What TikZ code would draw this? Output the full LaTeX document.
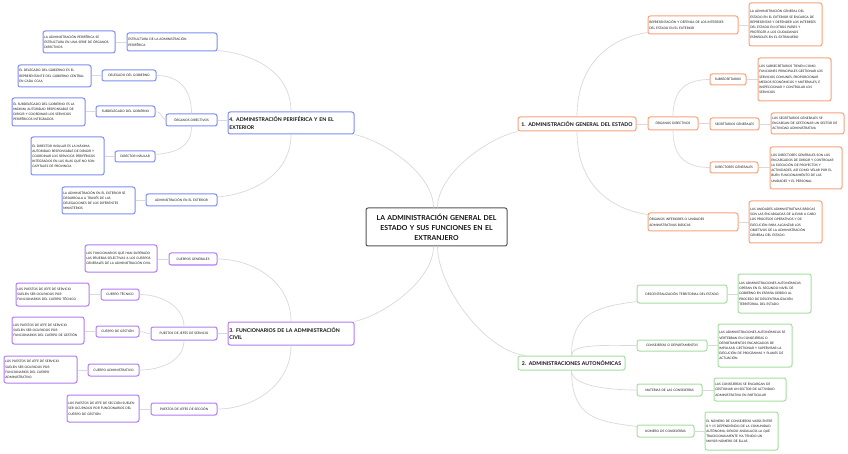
\documentclass[tikz,border=0pt]{standalone}
\usepackage{fontspec}
\setmainfont{Lato}
\definecolor{cblue}{HTML}{7F8CF2}
\definecolor{cpurp}{HTML}{B27CF5}
\definecolor{corng}{HTML}{F7A27C}
\definecolor{cgren}{HTML}{A5DEA0}
\definecolor{cgray}{HTML}{555555}
\definecolor{lgray}{HTML}{D9D9D9}
\definecolor{txt}{HTML}{111111}
\tikzset{
  box/.style={draw, rounded corners=2.2pt, fill=white, line width=1pt, inner xsep=1.3pt, inner ysep=0.5pt,
    align=left, text=txt, font=\fontsize{3.15}{5.2}\selectfont},
  ctr/.style={align=center},
  bl/.style={draw=cblue}, pb/.style={draw=cpurp}, ob/.style={draw=corng}, gb/.style={draw=cgren},
  brfont/.style={font=\bfseries\fontsize{5.2}{7.7}\selectfont},
  mainbox/.style={draw=cgray, line width=1pt, rounded corners=2pt, font=\bfseries\fontsize{6.9}{10}\selectfont, align=center},
  conn/.style={draw=lgray, line width=0.7pt},
}
\newcommand{\bx}[7]{%
  \pgfmathsetmacro{\mybw}{#4-#2}\pgfmathsetmacro{\mybh}{#5-#3}\pgfmathsetmacro{\mytw}{#4-#2-2.6}%
  \node[box, #6, minimum width=\mybw pt, minimum height=\mybh pt, text width=\mytw pt] (#1) at ({(#2+#4)/2},{(#3+#5)/2}) {#7};}
\begin{document}
\begin{tikzpicture}[x=1pt,y=-1pt]
\fill[white] (0,0) rectangle (848,454);
\useasboundingbox (0,0) rectangle (848,454);

% central
\bx{c}{366}{208}{507}{246}{mainbox}{LA ADMINISTRACIÓN GENERAL DEL\\ESTADO Y SUS FUNCIONES EN EL\\EXTRANJERO}

% branch 4
\bx{b4}{228}{112}{354}{134}{bl,brfont}{4. ADMINISTRACIÓN PERIFÉRICA Y EN EL\\EXTERIOR}
\bx{estr}{127}{33}{217}{51}{bl}{ESTRUCTURA DE LA ADMINISTRACIÓN\\PERIFÉRICA}
\bx{estrd}{43}{31}{115}{53}{bl}{LA ADMINISTRACIÓN PERIFÉRICA SE\\ESTRUCTURA EN UNA SERIE DE ÓRGANOS\\DIRECTIVOS}
\bx{org}{166}{114}{217}{126}{bl,ctr}{ÓRGANOS DIRECTIVOS}
\bx{del}{102}{70}{156}{81}{bl,ctr}{DELEGADO DEL GOBIERNO}
\bx{deld}{18}{65}{91}{87}{bl}{EL DELEGADO DEL GOBIERNO ES EL\\REPRESENTANTE DEL GOBIERNO CENTRAL\\EN CADA CCAA}
\bx{sub}{96}{106}{155}{117}{bl,ctr}{SUBDELEGADO DEL GOBIERNO}
\bx{subd}{12}{98}{85}{126}{bl}{EL SUBDELEGADO DEL GOBIERNO ES LA\\MÁXIMA AUTORIDAD RESPONSABLE DE\\DIRIGIR Y COORDINAR LOS SERVICIOS\\PERIFÉRICOS INTEGRADOS}
\bx{dir}{115}{151}{155}{162}{bl,ctr}{DIRECTOR INSULAR}
\bx{dird}{31}{137}{104}{175}{bl}{EL DIRECTOR INSULAR ES LA MÁXIMA\\AUTORIDAD RESPONSABLE DE DIRIGIR Y\\COORDINAR LOS SERVICIOS PERIFÉRICOS\\INTEGRADOS EN LAS ISLAS QUE NO SON\\CAPITALES DE PROVINCIA}
\bx{ext}{146}{194}{217}{206}{bl,ctr}{ADMINISTRACIÓN EN EL EXTERIOR}
\bx{extd}{62}{187}{135}{214}{bl}{LA ADMINISTRACIÓN EN EL EXTERIOR SE\\DESARROLLA A TRAVÉS DE LAS\\DELEGACIONES DE LOS DIFERENTES\\MINISTERIOS}

% branch 3
\bx{b3}{228}{322}{354}{345}{pb,brfont}{3. FUNCIONARIOS DE LA ADMINISTRACIÓN\\CIVIL}
\bx{cg}{169}{253}{217}{265}{pb,ctr}{CUERPOS GENERALES}
\bx{cgd}{85}{245}{157}{272}{pb}{LOS FUNCIONARIOS QUE HAN SUPERADO\\LAS PRUEBAS SELECTIVAS A LOS CUERPOS\\GENERALES DE LA ADMINISTRACIÓN CIVIL}
\bx{ps}{151}{327}{217}{340}{pb,ctr}{PUESTOS DE JEFES DE SERVICIO}
\bx{tec}{101}{289}{139}{300}{pb,ctr}{CUERPO TÉCNICO}
\bx{tecd}{16}{283}{89}{306}{pb}{LOS PUESTOS DE JEFE DE SERVICIO\\SUELEN SER OCUPADOS POR\\FUNCIONARIOS DEL CUERPO TÉCNICO}
\bx{ges}{96}{326}{139}{337}{pb,ctr}{CUERPO DE GESTIÓN}
\bx{gesd}{12}{317}{84}{344}{pb}{LOS PUESTOS DE JEFE DE SERVICIO\\SUELEN SER OCUPADOS POR\\FUNCIONARIOS DEL CUERPO DE GESTIÓN}
\bx{adm}{88}{364}{139}{376}{pb,ctr}{CUERPO ADMINISTRATIVO}
\bx{admd}{4}{356}{77}{383}{pb}{LOS PUESTOS DE JEFE DE SERVICIO\\SUELEN SER OCUPADOS POR\\FUNCIONARIOS DEL CUERPO\\ADMINISTRATIVO}
\bx{psec}{151}{403}{217}{415}{pb,ctr}{PUESTOS DE JEFES DE SECCIÓN}
\bx{psecd}{67}{395}{139}{422}{pb}{LOS PUESTOS DE JEFE DE SECCIÓN SUELEN\\SER OCUPADOS POR FUNCIONARIOS DEL\\CUERPO DE GESTIÓN}

% branch 1
\bx{b1}{518}{117}{636}{131}{ob,brfont,ctr}{1. ADMINISTRACIÓN GENERAL DEL ESTADO}
\bx{rep}{648}{16}{738}{34}{ob}{REPRESENTACIÓN Y DEFENSA DE LOS INTERESES\\DEL ESTADO EN EL EXTERIOR}
\bx{repd}{749}{3}{822}{46}{ob}{LA ADMINISTRACIÓN GENERAL DEL\\ESTADO EN EL EXTERIOR SE ENCARGA DE\\REPRESENTAR Y DEFENDER LOS INTERESES\\DEL ESTADO EN OTROS PAÍSES Y\\PROTEGER A LOS CIUDADANOS\\ESPAÑOLES EN EL EXTRANJERO}
\bx{od}{648}{117}{698}{130}{ob,ctr}{ÓRGANOS DIRECTIVOS}
\bx{subs}{710}{74}{746}{85}{ob,ctr}{SUBSECRETARIOS}
\bx{subsd}{758}{58}{831}{101}{ob}{LOS SUBSECRETARIOS TIENEN COMO\\FUNCIONES PRINCIPALES GESTIONAR LOS\\SERVICIOS COMUNES, PROPORCIONAR\\MEDIOS ECONÓMICOS Y MATERIALES, E\\INSPECCIONAR Y CONTROLAR LOS\\SERVICIOS}
\bx{sg}{710}{118}{759}{130}{ob,ctr}{SECRETARIOS GENERALES}
\bx{sgd}{771}{113}{844}{134}{ob}{LOS SECRETARIOS GENERALES SE\\ENCARGAN DE GESTIONAR UN SECTOR DE\\ACTIVIDAD ADMINISTRATIVA}
\bx{dg}{710}{162}{758}{173}{ob,ctr}{DIRECTORES GENERALES}
\bx{dgd}{770}{147}{842}{189}{ob}{LOS DIRECTORES GENERALES SON LOS\\ENCARGADOS DE DIRIGIR Y CONTROLAR\\LA EJECUCIÓN DE PROYECTOS Y\\ACTIVIDADES, ASÍ COMO VELAR POR EL\\BUEN FUNCIONAMIENTO DE LAS\\UNIDADES Y EL PERSONAL}
\bx{inf}{648}{213}{738}{231}{ob}{ÓRGANOS INFERIORES O UNIDADES\\ADMINISTRATIVAS BÁSICAS}
\bx{infd}{749}{201}{822}{243}{ob}{LAS UNIDADES ADMINISTRATIVAS BÁSICAS\\SON LAS ENCARGADAS DE LLEVAR A CABO\\LOS PROCESOS OPERATIVOS Y DE\\EJECUCIÓN PARA ALCANZAR LOS\\OBJETIVOS DE LA ADMINISTRACIÓN\\GENERAL DEL ESTADO}

% branch 2
\bx{b2}{518}{356}{625}{370}{gb,brfont,ctr}{2. ADMINISTRACIONES AUTONÓMICAS}
\bx{desc}{637}{285}{727}{303}{gb,ctr}{DESCENTRALIZACIÓN TERRITORIAL DEL ESTADO}
\bx{descd}{738}{274}{811}{313}{gb}{LAS ADMINISTRACIONES AUTONÓMICAS\\OPERAN EN EL SEGUNDO NIVEL DE\\GOBIERNO EN ESPAÑA DEBIDO AL\\PROCESO DE DESCENTRALIZACIÓN\\TERRITORIAL DEL ESTADO}
\bx{cons}{637}{340}{707}{351}{gb,ctr}{CONSEJERÍAS O DEPARTAMENTOS}
\bx{consd}{718}{324}{792}{367}{gb}{LAS ADMINISTRACIONES AUTONÓMICAS SE\\VERTEBRAN EN CONSEJERÍAS O\\DEPARTAMENTOS ENCARGADOS DE\\IMPULSAR, GESTIONAR Y SUPERVISAR LA\\EJECUCIÓN DE PROGRAMAS Y PLANES DE\\ACTUACIÓN}
\bx{mat}{637}{384}{702}{396}{gb,ctr}{MATERIAS DE LAS CONSEJERÍAS}
\bx{matd}{714}{378}{786}{401}{gb}{LAS CONSEJERÍAS SE ENCARGAN DE\\GESTIONAR UN SECTOR DE ACTIVIDAD\\ADMINISTRATIVA EN PARTICULAR}
\bx{num}{637}{425}{694}{437}{gb,ctr}{NÚMERO DE CONSEJERÍAS}
\bx{numd}{705}{412}{778}{450}{gb}{EL NÚMERO DE CONSEJERÍAS VARÍA ENTRE\\8 Y 15 DEPENDIENDO DE LA COMUNIDAD\\AUTÓNOMA, SIENDO ANDALUCÍA LA QUE\\TRADICIONALMENTE HA TENIDO UN\\MAYOR NÚMERO DE ELLAS}

% connectors: centre to branches
\draw[conn] ([xshift=-3pt]c.north) .. controls +(0,-33) and +(31,7) .. (b4.south east);
\draw[conn] ([xshift=1pt]c.north) .. controls +(0,-33) and +(-31,7) .. (b1.south west);
\draw[conn] ([xshift=-3pt]c.south) .. controls +(0,33) and +(31,-7) .. (b3.north east);
\draw[conn] ([xshift=1pt]c.south) .. controls +(0,40) and +(-40,-4) .. ([xshift=8pt]b2.north west);

% branch 4
\draw[conn] (b4.north) .. controls +(0,-40) and +(35,3) .. ([yshift=1pt]estr.south east);
\draw[conn] (org.east) -- (org.east -| b4.west);
\draw[conn] (b4.south) .. controls +(0,40) and +(35,-3) .. ([yshift=3pt]ext.east);
\draw[conn] (org.north) .. controls +(0,-25) and +(22,0) .. (del.east);
\draw[conn] (sub.east) .. controls +(6,0) and +(-5,-3) .. (org.west);
\draw[conn] (org.south) .. controls +(0,20) and +(22,-2) .. ([yshift=2pt]dir.east);
\draw[conn] (estrd.east |- estr.west) -- (estr.west);
\draw[conn] (del.west) -- (del.west -| deld.east);
\draw[conn] (sub.west) -- (sub.west -| subd.east);
\draw[conn] (dir.west) -- (dir.west -| dird.east);
\draw[conn] (ext.west) -- (ext.west -| extd.east);

% branch 3
\draw[conn] (b3.north) .. controls +(0,-40) and +(35,0) .. (cg.east);
\draw[conn] (ps.east) -- (ps.east -| b3.west);
\draw[conn] (b3.south) .. controls +(0,40) and +(35,0) .. (psec.east);
\draw[conn] (ps.north) .. controls +(0,-20) and +(22,0) .. (tec.east);
\draw[conn] (ges.east) .. controls +(5,0) and +(-5,0) .. (ps.west);
\draw[conn] (ps.south) .. controls +(0,20) and +(22,0) .. (adm.east);
\draw[conn] (cg.west) -- (cg.west -| cgd.east);
\draw[conn] (tec.west) -- (tec.west -| tecd.east);
\draw[conn] (ges.west) -- (ges.west -| gesd.east);
\draw[conn] (adm.west) -- (adm.west -| admd.east);
\draw[conn] (psec.west) -- (psec.west -| psecd.east);

% branch 1
\draw[conn] (b1.north) .. controls +(0,-55) and +(-35,5) .. ([yshift=2pt]rep.south west);
\draw[conn] (b1.east) -- (b1.east -| od.west);
\draw[conn] (b1.south) .. controls +(0,55) and +(-35,-5) .. ([yshift=-2pt]inf.north west);
\draw[conn] (od.north) .. controls +(0,-28) and +(-22,0) .. (subs.west);
\draw[conn] (od.east) -- (od.east -| sg.west);
\draw[conn] (od.south) .. controls +(0,28) and +(-22,0) .. (dg.west);
\draw[conn] (rep.east) -- (rep.east -| repd.west);
\draw[conn] (subs.east) -- (subs.east -| subsd.west);
\draw[conn] (sg.east) -- (sg.east -| sgd.west);
\draw[conn] (dg.east) -- (dg.east -| dgd.west);
\draw[conn] (inf.east) -- (inf.east -| infd.west);

% branch 2
\draw[conn] (b2.north) .. controls +(0,-45) and +(-35,5) .. ([yshift=2pt]desc.south west);
\draw[conn] (b2.north) .. controls +(0,-12) and +(-30,0) .. (cons.west);
\draw[conn] (b2.south) .. controls +(0,15) and +(-30,0) .. (mat.west);
\draw[conn] (b2.south) .. controls +(0,50) and +(-35,-5) .. ([yshift=-2pt]num.north west);
\draw[conn] (desc.east) -- (desc.east -| descd.west);
\draw[conn] (cons.east) -- (cons.east -| consd.west);
\draw[conn] (mat.east) -- (mat.east -| matd.west);
\draw[conn] (num.east) -- (num.east -| numd.west);
\end{tikzpicture}
\end{document}
